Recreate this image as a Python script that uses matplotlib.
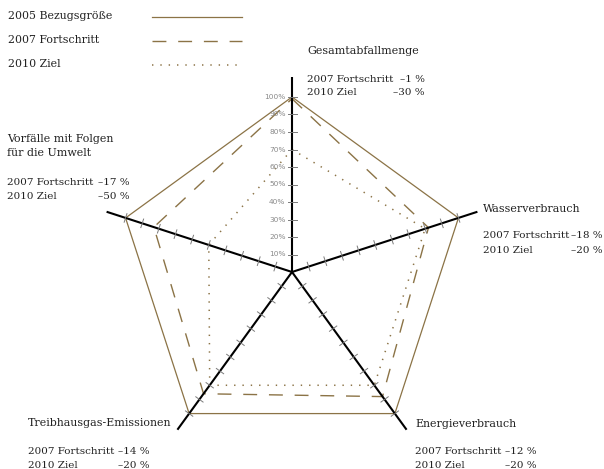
import numpy as np
import matplotlib
matplotlib.use("Agg")
import matplotlib.pyplot as plt

plt.rcParams['lines.scale_dashes'] = False

# ---- data ----
categories = ["Gesamtabfallmenge", "Wasserverbrauch", "Energieverbrauch",
              "Treibhausgas-Emissionen", "Vorfälle mit Folgen\nfür die Umwelt"]
bezug_2005 = [100, 100, 100, 100, 100]
fortschritt_2007 = [99, 82, 88, 86, 83]
ziel_2010 = [70, 80, 80, 80, 50]
fortschritt_labels = ["–1 %", "–18 %", "–12 %", "–14 %", "–17 %"]
ziel_labels = ["–30 %", "–20 %", "–20 %", "–20 %", "–50 %"]
tick_values = [10, 20, 30, 40, 50, 60, 70, 80, 90, 100]
series_names = ["2005 Bezugsgröße", "2007 Fortschritt", "2010 Ziel"]

# ---- layout ----
W, H = 604, 469
CX, CY, R = 292, 272, 175
BROWN = "#8b7346"
SERIF = "DejaVu Serif"
FS_TITLE = 7.9
FS_LINE = 7.5

fig = plt.figure(figsize=(W / 100, H / 100), dpi=100)
ax = fig.add_axes([0, 0, 1, 1])
ax.set_xlim(-CX / R, (W - CX) / R)
ax.set_ylim(-(H - CY) / R, CY / R)
ax.axis("off")

n = len(categories)
theta = np.deg2rad(90 - 72 * np.arange(n))


def poly(vals):
    r = np.asarray(vals) / 100.0
    x = r * np.cos(theta)
    y = r * np.sin(theta)
    return np.append(x, x[0]), np.append(y, y[0])


x, y = poly(bezug_2005)
ax.plot(x, y, color=BROWN, lw=0.9, zorder=2)
x, y = poly(fortschritt_2007)
ax.plot(x, y, color=BROWN, lw=1.0, dashes=(10, 8.5), zorder=2)
x, y = poly(ziel_2010)
ax.plot(x, y, color=BROWN, lw=1.1, dashes=(1, 5), zorder=2)

# spokes
for t in theta:
    ax.plot([0, 1.114 * np.cos(t)], [0, 1.114 * np.sin(t)], color="black",
            lw=1.5, zorder=3, solid_capstyle="butt")
    nx, ny = -np.sin(t), np.cos(t)
    h = 4.5 / R
    for v in tick_values:
        r = v / 100.0
        px, py = r * np.cos(t), r * np.sin(t)
        ax.plot([px - h * nx, px + h * nx], [py - h * ny, py + h * ny],
                color="#7a7a7a", lw=0.7, zorder=4)

# tick labels on top axis
for v in tick_values:
    ax.text(-6.5 / R, v / 100.0, f"{v}%", ha="right", va="center",
            fontsize=5.3, color="#8a8a8a", family="DejaVu Sans")


def ftext(xp, yp, s, fs, **kw):
    fig.text(xp / W, 1 - yp / H, s, fontsize=fs, family=SERIF,
             color="#222222", va="baseline", **kw)


# legend
leg_y = [19, 43, 67]
line_y = [17, 41.5, 65]
styles = [dict(lw=0.9), dict(lw=1.0, dashes=(10, 8.5)), dict(lw=1.1, dashes=(1, 5))]
for name, ty, ly, st in zip(series_names, leg_y, line_y, styles):
    ftext(8, ty, name, FS_TITLE)
    ax.plot([(152 - CX) / R, (242 - CX) / R], [(CY - ly) / R, (CY - ly) / R],
            color=BROWN, **st)

# category labels: (x_left, x_right_values, title baselines, value baselines)
label_pos = [
    (307, 425, [53.5], [81.5, 95]),
    (483, 603, [211.5], [238, 252.5]),
    (415, 537, [426.5], [454, 468]),
    (28, 150, [425.5], [453.5, 467.5]),
    (7, 130, [142.5, 156], [185, 198.5]),
]
for cat, fl, zl, (xl, xr, tb, vb) in zip(categories, fortschritt_labels,
                                          ziel_labels, label_pos):
    for line, b in zip(cat.split("\n"), tb):
        ftext(xl, b, line, FS_TITLE)
    ftext(xl, vb[0], "2007 Fortschritt", FS_LINE)
    ftext(xr, vb[0], fl, FS_LINE, ha="right")
    ftext(xl, vb[1], "2010 Ziel", FS_LINE)
    ftext(xr, vb[1], zl, FS_LINE, ha="right")

fig.savefig("out.png", dpi=100, facecolor="white")
